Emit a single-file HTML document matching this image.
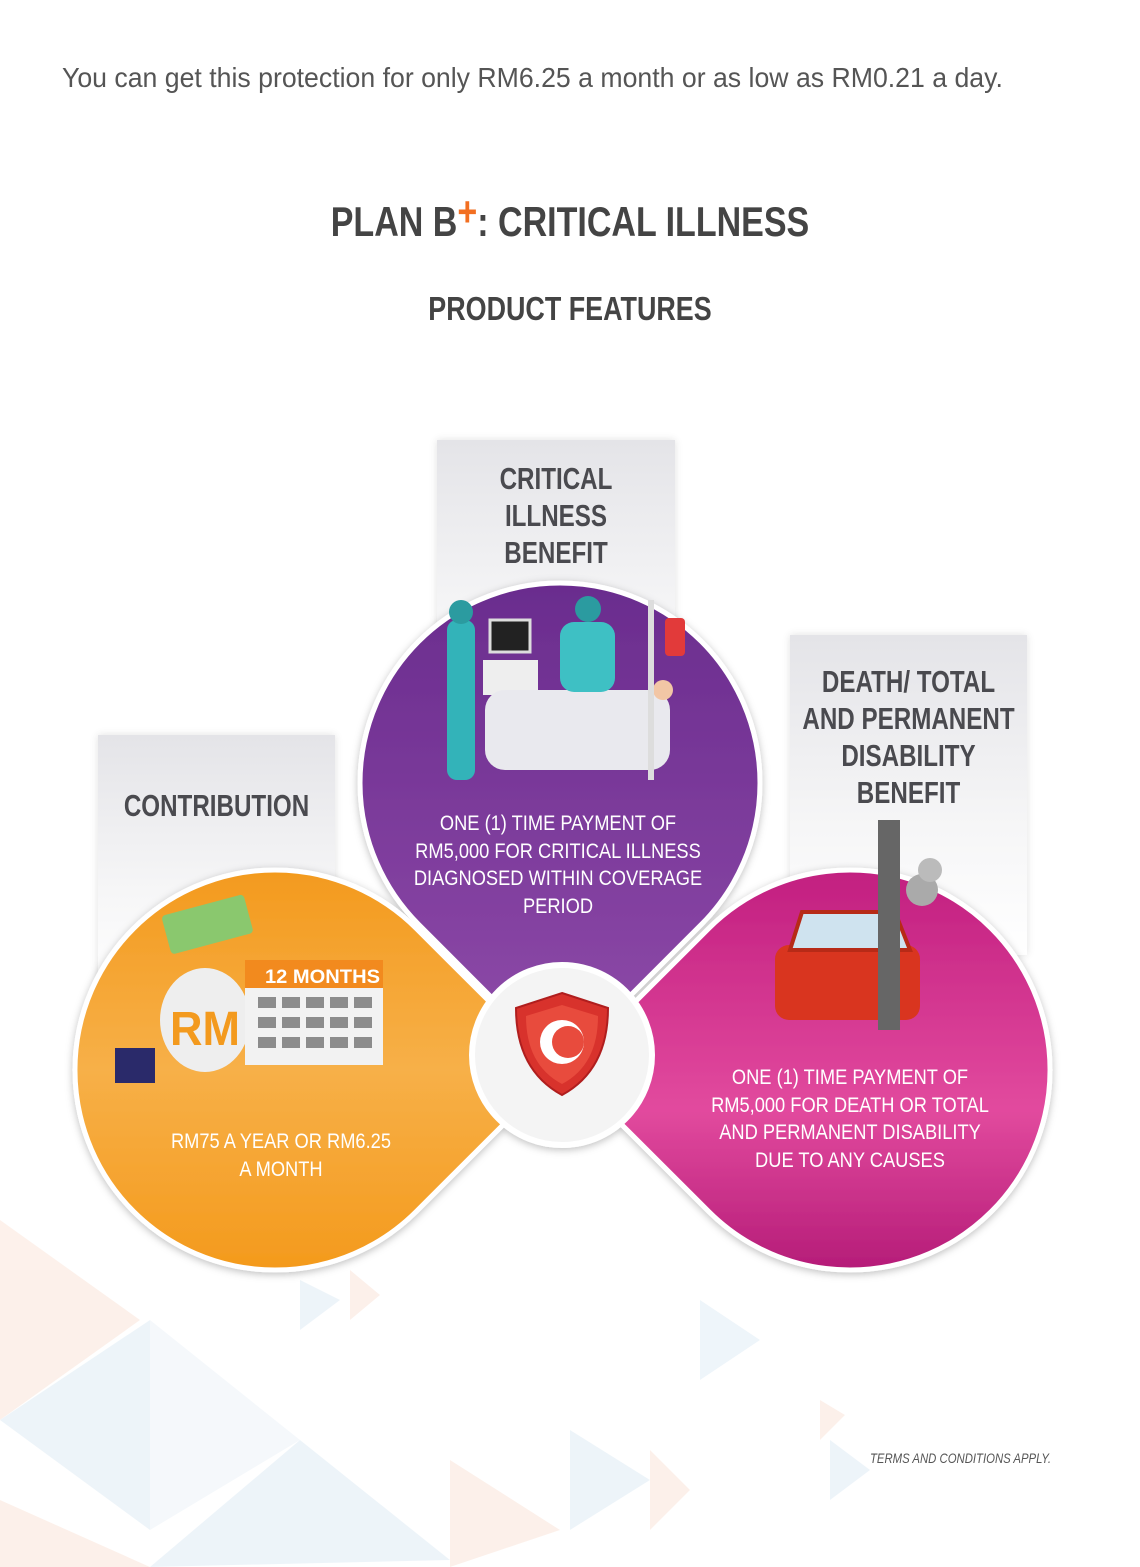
<!DOCTYPE html>
<html><head><meta charset="utf-8"><style>
body{margin:0;width:1140px;height:1567px;background:#fff;position:relative;overflow:hidden;font-family:"Liberation Sans Narrow","Liberation Sans",sans-serif;}
.t{position:absolute;white-space:nowrap;}
.card{position:absolute;background:linear-gradient(#e4e4e8,#f6f6f7 60%,#fff);box-shadow:0 0 8px rgba(0,0,0,.12);}
.ct{position:absolute;left:-30px;width:calc(100% + 60px);text-align:center;font-weight:bold;color:#4a4a4f;font-size:31px;line-height:37px;white-space:nowrap;transform:scaleX(.78);}
.wt{position:absolute;color:#fff;text-align:center;font-size:21px;line-height:27.5px;white-space:nowrap;transform:scaleX(.87);}
</style></head><body>
<div class="t" style="left:62px;top:62px;font-size:28px;color:#555;transform:scaleX(.952);transform-origin:left;">You can get this protection for only RM6.25 a month or as low as RM0.21 a day.</div>
<div class="t" style="left:0;width:1140px;top:198px;text-align:center;font-size:42px;font-weight:bold;color:#444;transform:scaleX(.81);">PLAN B<span style="color:#f26f21;position:relative;top:-10px;">+</span>: CRITICAL ILLNESS</div>
<div class="t" style="left:0;width:1140px;top:290px;text-align:center;font-size:33px;font-weight:bold;color:#444;transform:scaleX(.815);">PRODUCT FEATURES</div>

<svg class="t" style="left:0;top:1200px" width="1140" height="367">
<g opacity=".25">
<polygon points="0,20 140,120 0,220" fill="#f6c7b0"/>
<polygon points="0,220 150,120 150,330" fill="#bcd6ea"/>
<polygon points="150,120 300,240 150,330" fill="#d8e6f1"/>
<polygon points="300,240 450,360 150,367" fill="#bcd6ea"/>
<polygon points="450,260 560,330 450,367" fill="#f6c7b0"/>
<polygon points="0,300 150,367 0,367" fill="#f6c7b0"/>
<polygon points="300,80 340,100 300,130" fill="#bcd6ea"/>
<polygon points="350,70 380,95 350,120" fill="#f6c7b0"/>
<polygon points="700,100 760,140 700,180" fill="#bcd6ea"/>
<polygon points="570,230 650,280 570,330" fill="#bcd6ea"/>
<polygon points="650,250 690,290 650,330" fill="#f6c7b0"/>
<polygon points="820,200 845,215 820,240" fill="#f6c7b0"/>
<polygon points="830,240 870,270 830,300" fill="#bcd6ea"/>
</g></svg>

<div class="card" style="left:437px;top:440px;width:238px;height:300px;"><div class="ct" style="top:20px;">CRITICAL<br>ILLNESS<br>BENEFIT</div></div>
<div class="card" style="left:98px;top:735px;width:237px;height:260px;"><div class="ct" style="top:52px;">CONTRIBUTION</div></div>
<div class="card" style="left:790px;top:635px;width:237px;height:320px;"><div class="ct" style="top:28px;">DEATH/ TOTAL<br>AND PERMANENT<br>DISABILITY<br>BENEFIT</div></div>

<svg class="t" style="left:0;top:0" width="1140" height="1567">
<defs>
<linearGradient id="gp" x1="0" y1="0" x2="0" y2="1"><stop offset="0" stop-color="#6a2c8e"/><stop offset="1" stop-color="#8f4ba9"/></linearGradient>
<linearGradient id="go" x1="0" y1="0" x2="1" y2="0"><stop offset="0" stop-color="#f49a1c"/><stop offset=".5" stop-color="#f7b048"/><stop offset="1" stop-color="#f39a1e"/></linearGradient>
<linearGradient id="gm" x1="0" y1="0" x2="1" y2="0"><stop offset="0" stop-color="#c21f80"/><stop offset=".6" stop-color="#e24a9e"/><stop offset="1" stop-color="#b51c78"/></linearGradient>
<filter id="sh"><feDropShadow dx="0" dy="2" stdDeviation="4" flood-opacity=".25"/></filter>
</defs>
<g filter="url(#sh)">
<path d="M560,1066 L701.4,924.4 A200,200 0 1 0 418.6,924.4 Z" fill="url(#gp)" stroke="#fff" stroke-width="5"/>
<g transform="rotate(-90 275 1070)"><path d="M275,1353 L416.4,1211.4 A200,200 0 1 0 133.6,1211.4 Z" fill="url(#go)" stroke="#fff" stroke-width="5"/></g>
<g transform="rotate(90 850 1070)"><path d="M850,1353 L991.4,1211.4 A200,200 0 1 0 708.6,1211.4 Z" fill="url(#gm)" stroke="#fff" stroke-width="5"/></g>
<circle cx="562" cy="1055" r="90" fill="#f4f4f4" stroke="#fff" stroke-width="6"/>
</g>
<path d="M562,993 L608,1008 Q608,1070 562,1095 Q516,1070 516,1008 Z" fill="#d8322c" stroke="#b01e1e" stroke-width="2"/>
<path d="M562,1005 L598,1016 Q598,1065 562,1084 Q526,1065 526,1016 Z" fill="#e84b3d"/>
<circle cx="562" cy="1042" r="22" fill="#fff"/><circle cx="568" cy="1042" r="16" fill="#e84b3d"/>
<rect x="490" y="620" width="40" height="32" fill="#222" stroke="#ddd" stroke-width="3"/>
<rect x="483" y="660" width="55" height="35" fill="#eee"/>
<rect x="485" y="690" width="185" height="80" rx="20" fill="#e9e9ee"/>
<rect x="447" y="620" width="28" height="160" rx="10" fill="#33b3b9"/>
<circle cx="461" cy="612" r="12" fill="#2b9ba0"/>
<rect x="560" y="622" width="55" height="70" rx="14" fill="#3ec0c4"/>
<circle cx="588" cy="609" r="13" fill="#2b9ba0"/>
<circle cx="663" cy="690" r="10" fill="#f2c6a5"/>
<rect x="648" y="600" width="6" height="180" fill="#ddd"/>
<rect x="665" y="618" width="20" height="38" rx="4" fill="#e23a3a"/>
<ellipse cx="205" cy="1020" rx="45" ry="52" fill="#eee"/>
<rect x="165" y="905" width="85" height="40" rx="4" fill="#8ac86e" transform="rotate(-15 205 925)"/>
<text x="170" y="1045" font-size="48" font-weight="bold" fill="#f39a1e" font-family="Liberation Sans,sans-serif" textLength="70" lengthAdjust="spacingAndGlyphs">RM</text>
<rect x="115" y="1048" width="40" height="35" fill="#2a2a6a"/>
<rect x="245" y="960" width="138" height="105" fill="#f2f2f2"/>
<rect x="245" y="960" width="138" height="28" fill="#f28a1e"/>
<text x="265" y="983" font-size="19" font-weight="bold" fill="#fff" font-family="Liberation Sans,sans-serif" textLength="115" lengthAdjust="spacingAndGlyphs">12 MONTHS</text>
<g fill="#8c8c8c">
<rect x="258" y="997" width="18" height="11"/><rect x="282" y="997" width="18" height="11"/><rect x="306" y="997" width="18" height="11"/><rect x="330" y="997" width="18" height="11"/><rect x="354" y="997" width="18" height="11"/>
<rect x="258" y="1017" width="18" height="11"/><rect x="282" y="1017" width="18" height="11"/><rect x="306" y="1017" width="18" height="11"/><rect x="330" y="1017" width="18" height="11"/><rect x="354" y="1017" width="18" height="11"/>
<rect x="258" y="1037" width="18" height="11"/><rect x="282" y="1037" width="18" height="11"/><rect x="306" y="1037" width="18" height="11"/><rect x="330" y="1037" width="18" height="11"/><rect x="354" y="1037" width="18" height="11"/>
</g>
<rect x="775" y="945" width="145" height="75" rx="14" fill="#d9351f"/>
<path d="M790,950 L802,912 L895,912 L910,950 Z" fill="#cfe3ef" stroke="#b72a17" stroke-width="4"/>
<rect x="878" y="820" width="22" height="210" fill="#666"/>
<circle cx="922" cy="890" r="16" fill="#aaa"/><circle cx="930" cy="870" r="12" fill="#bbb"/>
</svg>

<div class="wt" style="left:380px;width:356px;top:810px;">ONE (1) TIME PAYMENT OF<br>RM5,000 FOR CRITICAL ILLNESS<br>DIAGNOSED WITHIN COVERAGE<br>PERIOD</div>
<div class="wt" style="left:120px;width:322px;top:1128px;">RM75 A YEAR OR RM6.25<br>A MONTH</div>
<div class="wt" style="left:680px;width:340px;top:1064px;">ONE (1) TIME PAYMENT OF<br>RM5,000 FOR DEATH OR TOTAL<br>AND PERMANENT DISABILITY<br>DUE TO ANY CAUSES</div>
<div class="t" style="left:870px;top:1450px;font-size:14px;font-style:italic;color:#555;transform:scaleX(.81);transform-origin:left;">TERMS AND CONDITIONS APPLY.</div>
</body></html>
